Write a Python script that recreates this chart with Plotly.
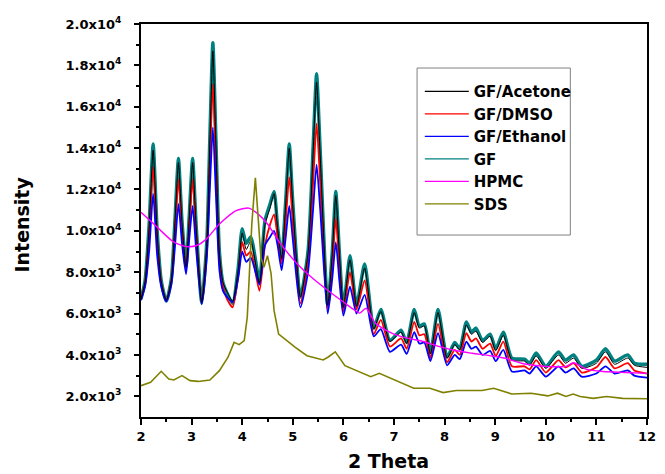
import plotly.graph_objects as go

# ---- data -------------------------------------------------------------
two_theta_gf = [2.00, 2.08, 2.16, 2.24, 2.32, 2.40, 2.50, 2.60, 2.67, 2.74,
                2.81, 2.89, 2.95, 3.02, 3.09, 3.20, 3.30, 3.36, 3.42, 3.48,
                3.55, 3.62, 3.70, 3.81, 3.92, 4.00, 4.08, 4.17, 4.34, 4.45,
                4.55, 4.63, 4.70, 4.78, 4.86, 4.93, 5.00, 5.15, 5.30, 5.40,
                5.47, 5.54, 5.69, 5.78, 5.85, 5.92, 6.00, 6.13, 6.26, 6.42,
                6.60, 6.74, 6.92, 7.14, 7.25, 7.40, 7.50, 7.60, 7.72, 7.87,
                8.05, 8.20, 8.30, 8.43, 8.53, 8.62, 8.75, 8.90, 9.01, 9.16,
                9.33, 9.58, 9.68, 9.81, 10.00, 10.25, 10.39, 10.55, 10.71, 11.00,
                11.18, 11.36, 11.62, 11.75, 12.00]

gf = [6700, 7600, 10300, 14200, 10000, 7600, 6600, 7700, 10500, 13500,
      10500, 8300, 10600, 13500, 10300, 6500, 9500, 14500, 19100, 14500,
      9000, 7500, 7000, 6500, 8200, 10100, 9400, 9700, 7600, 10500,
      11300, 11900, 10200, 8700, 11500, 14200, 11400, 6800, 9000, 14000,
      17600, 14000, 6400, 9000, 11900, 9000, 6300, 8800, 6400, 8400,
      5300, 6200, 4700, 5200, 4600, 6200, 5400, 5500, 4100, 6200,
      3900, 4600, 4300, 5600, 5100, 5300, 4700, 5000, 4300, 5100,
      3850, 3800, 3600, 4100, 3450, 4150, 3750, 4000, 3450, 3750,
      4300, 3700, 4000, 3600, 3550]

gf_acetone = [6700, 7550, 10150, 13900, 9850, 7550, 6650, 7650, 10350, 13300,
              10400, 8250, 10450, 13300, 10200, 6550, 9400, 14200, 18700, 14200,
              8900, 7500, 7050, 6600, 8100, 9900, 9100, 9500, 7500, 10300,
              11100, 11800, 10100, 8650, 11300, 14000, 11200, 6800, 8900, 13700,
              17200, 13700, 6400, 8900, 11700, 8900, 6300, 8600, 6350, 8200,
              5250, 6100, 4650, 5100, 4550, 6050, 5300, 5400, 4050, 6050,
              3850, 4500, 4250, 5450, 5000, 5150, 4600, 4900, 4200, 4950,
              3750, 3700, 3500, 3950, 3350, 4000, 3600, 3850, 3350, 3600,
              4150, 3550, 3850, 3500, 3400]

gf_dmso = [6700, 7450, 9700, 13100, 9500, 7450, 6600, 7550, 9900, 12500,
           10000, 8100, 10100, 12500, 9800, 6500, 9100, 13300, 17100, 13200,
           8600, 7300, 6700, 6300, 7800, 9450, 8800, 9000, 7100, 9300,
           10300, 10800, 9700, 8400, 10500, 12600, 10400, 6500, 8500, 12300,
           15200, 12400, 6200, 8300, 10600, 8300, 6100, 8000, 6200, 7600,
           5000, 5700, 4400, 4800, 4300, 5600, 4950, 5000, 3850, 5500,
           3650, 4250, 4000, 5050, 4650, 4800, 4300, 4550, 3950, 4640,
           3450, 3450, 3300, 3750, 3150, 3750, 3400, 3600, 3150, 3400,
           3900, 3350, 3600, 3250, 3100]

gf_ethanol = [6650, 7300, 9000, 11800, 8800, 7300, 6600, 7400, 9200, 11300,
              9400, 7900, 9500, 11200, 9100, 6450, 8700, 12000, 15000, 11800,
              8100, 7100, 6800, 6550, 7700, 9000, 8500, 8700, 7400, 9300,
              9700, 10000, 9300, 8100, 9700, 11200, 9600, 6300, 8000, 11000,
              13200, 11100, 6000, 7700, 9450, 7600, 5900, 7300, 6000, 6900,
              4900, 5250, 4150, 4500, 4050, 5100, 4550, 4600, 3700, 5050,
              3500, 4000, 3800, 4640, 4300, 4400, 4000, 4200, 3700, 4240,
              3200, 3250, 3100, 3450, 2950, 3450, 3150, 3350, 2950, 3100,
              3450, 3100, 3250, 3000, 2900]

two_theta_hpmc = [2.00, 2.20, 2.39, 2.65, 2.90, 3.10, 3.29, 3.55, 3.88, 4.13,
                  4.31, 4.50, 4.76, 5.09, 5.41, 5.74, 6.06, 6.20, 6.32, 6.45,
                  6.63, 6.84, 7.00, 7.26, 7.58, 7.90, 8.23, 8.55, 8.94, 9.20,
                  9.52, 9.85, 10.17, 10.40, 10.55, 10.81, 11.13, 11.59, 12.00]
hpmc = [10900, 10450, 10010, 9450, 9240, 9290, 9600, 10330, 10980, 11100,
        10820, 10330, 9370, 8400, 7670, 7030, 6450, 6200, 6020, 6260,
        5530, 5200, 5010, 4810, 4650, 4400, 4200, 4080, 3950, 3840,
        3600, 3480, 3430, 3450, 3620, 3300, 3200, 3150, 3110]

two_theta_sds = [2.00, 2.19, 2.40, 2.55, 2.65, 2.81, 2.97, 3.13, 3.36, 3.55,
                 3.72, 3.84, 3.94, 4.04, 4.10, 4.14, 4.19, 4.26, 4.32, 4.37,
                 4.43, 4.50, 4.57, 4.63, 4.72, 4.90, 5.05, 5.28, 5.60, 5.70,
                 5.84, 6.03, 6.25, 6.54, 6.71, 7.00, 7.39, 7.71, 7.97, 8.23,
                 8.74, 8.97, 9.33, 9.71, 10.04, 10.23, 10.40, 10.54, 10.68, 10.94,
                 11.20, 11.52, 12.00]
sds = [2515, 2680, 3210, 2840, 2790, 3000, 2760, 2720, 2790, 3240,
       3890, 4610, 4500, 4690, 5820, 8080, 10330, 12560, 10650, 8720,
       8240, 8800, 7950, 6140, 5010, 4640, 4370, 3960, 3760, 3900,
       4150, 3480, 3240, 2950, 3110, 2790, 2390, 2390, 2180, 2280,
       2280, 2390, 2110, 2150, 2020, 2150, 1990, 2110, 1990, 1900,
       1990, 1900, 1880]

y_tick_vals = [2000, 4000, 6000, 8000, 10000, 12000, 14000, 16000, 18000, 20000]
y_tick_text = ["2.0x10<sup>3</sup>", "4.0x10<sup>3</sup>", "6.0x10<sup>3</sup>",
               "8.0x10<sup>3</sup>", "1.0x10<sup>4</sup>", "1.2x10<sup>4</sup>",
               "1.4x10<sup>4</sup>", "1.6x10<sup>4</sup>", "1.8x10<sup>4</sup>",
               "2.0x10<sup>4</sup>"]

# ---- figure -----------------------------------------------------------
FONT = "DejaVu Sans"
fig = go.Figure()

# (name, x, y, colour, plotted width, legend order); GF is drawn first, underneath
series = [
    ("GF", two_theta_gf, gf, "#008080", 3.4, 4),
    ("GF/DMSO", two_theta_gf, gf_dmso, "#FF0000", 1.8, 2),
    ("GF/Ethanol", two_theta_gf, gf_ethanol, "#0000FF", 1.8, 3),
    ("GF/Acetone", two_theta_gf, gf_acetone, "#000000", 1.0, 1),
    ("HPMC", two_theta_hpmc, hpmc, "#FF00FF", 1.4, 5),
    ("SDS", two_theta_sds, sds, "#808000", 1.6, 6),
]
for name, xs, ys, color, width, rank in series:
    fig.add_trace(go.Scatter(
        x=xs, y=ys, name=name, mode="lines", showlegend=False,
        line=dict(color=color, width=width,
                  shape="linear" if name == "SDS" else "spline",
                  smoothing=0.6),
    ))

# legend keys use a uniform thin line regardless of the plotted width
for name, _, _, color, _, rank in series:
    fig.add_trace(go.Scatter(
        x=[None], y=[None], name=name, mode="lines",
        line=dict(color=color, width=1.3), legendrank=rank,
    ))

# frame around the legend entries
fig.add_shape(type="rect", xref="paper", yref="paper",
              x0=0.5456, x1=0.8485, y0=0.463, y1=0.888,
              line=dict(color="#808080", width=1), fillcolor="rgba(0,0,0,0)")

fig.add_annotation(text="<b>Intensity</b>", textangle=-90, xref="paper", yref="paper",
                   x=(20 - 141) / 515, y=0.49, xanchor="center", yanchor="middle",
                   showarrow=False,
                   font=dict(family=FONT, size=19, color="#000000"))
fig.add_annotation(text="<b>2 Theta</b>", xref="paper", yref="paper",
                   x=0.49, y=(417 - 461) / 393, xanchor="center", yanchor="middle",
                   showarrow=False,
                   font=dict(family=FONT, size=19, color="#000000"))

axis_common = dict(showline=True, linecolor="#000000", linewidth=2, mirror=True,
                   ticks="outside", tickcolor="#000000", tickwidth=1.5,
                   showgrid=False, zeroline=False,
                   tickfont=dict(family=FONT, size=13, color="#000000", weight="bold"))

fig.update_xaxes(range=[2, 12], dtick=1, tick0=2, ticklen=6,
                 minor=dict(dtick=0.5, ticklen=3, ticks="outside", tickcolor="#000000",
                            tickwidth=1.5, showgrid=False),
                 **axis_common)
fig.update_yaxes(range=[1000, 20000], tickvals=y_tick_vals, ticktext=y_tick_text,
                 ticklen=5, ticklabelstandoff=10,
                 minor=dict(tickvals=[3000, 5000, 7000, 9000, 11000, 13000, 15000,
                                      17000, 19000],
                            ticklen=3, ticks="outside", tickcolor="#000000",
                            tickwidth=1.5, showgrid=False),
                 **axis_common)

fig.update_layout(
    width=665, height=474,
    margin=dict(l=141, r=9, t=24, b=57),
    paper_bgcolor="#FFFFFF", plot_bgcolor="#FFFFFF",
    showlegend=True,
    legend=dict(x=0.551, y=0.87, xanchor="left", yanchor="top",
                bgcolor="rgba(0,0,0,0)", borderwidth=0, itemwidth=44,
                tracegroupgap=0,
                font=dict(family=FONT, size=15, color="#000000", weight="bold")),
)

fig.write_html("out.html")
